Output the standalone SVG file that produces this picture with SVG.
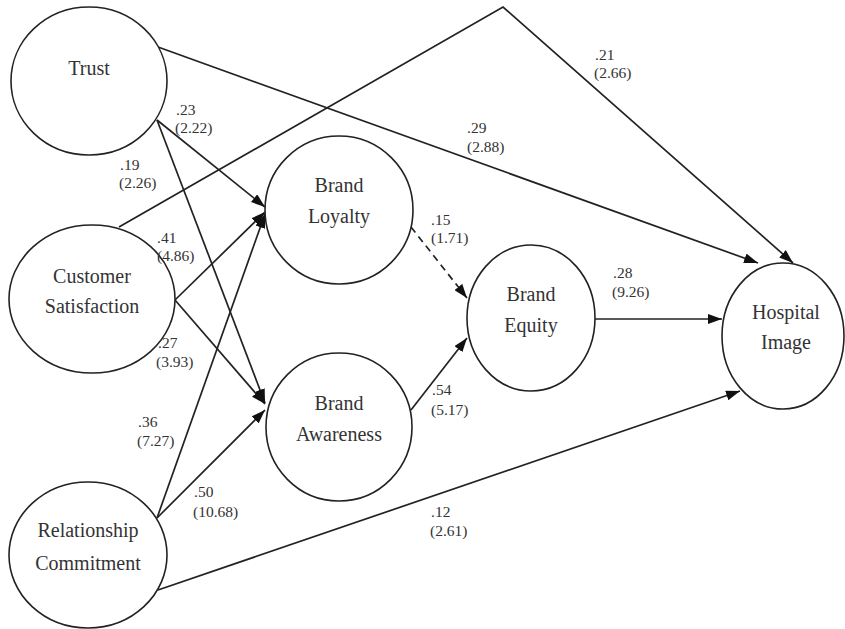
<svg xmlns="http://www.w3.org/2000/svg" width="845" height="629" viewBox="0 0 845 629">
<style>
.node ellipse{fill:#fff;stroke:#222;stroke-width:1.6}
.node text{font-family:"Liberation Serif","Times New Roman",serif;font-size:20px;fill:#333;text-anchor:middle}
.edges path{fill:none;stroke:#222;stroke-width:1.7}
.edges .dash{stroke-dasharray:7 5}
.lbl text{font-family:"Liberation Serif","Times New Roman",serif;font-size:15.5px;fill:#333}
</style>
<defs>
<marker id="arr" viewBox="0 0 14 10" markerWidth="14" markerHeight="10" refX="14" refY="5" orient="auto" markerUnits="userSpaceOnUse">
<path d="M0,0 L14,5 L0,10 z" fill="#111" stroke="none"/>
</marker>
</defs>
<rect width="845" height="629" fill="#fff"/>
<g class="edges">
<path d="M157,120 L265,207" marker-end="url(#arr)"/>
<path d="M157,120 L265,403" marker-end="url(#arr)"/>
<path d="M175,300 L265,212" marker-end="url(#arr)"/>
<path d="M175,300 L265,404" marker-end="url(#arr)"/>
<path d="M157,518 L265,214" marker-end="url(#arr)"/>
<path d="M157,518 L265,410" marker-end="url(#arr)"/>
<path d="M119,227 L503,7 L793,263" marker-end="url(#arr)"/>
<path d="M158,47 L758,263" marker-end="url(#arr)"/>
<path d="M158,590 L740,391" marker-end="url(#arr)"/>
<path class="dash" d="M411,227 L467,298" marker-end="url(#arr)"/>
<path d="M411,410 L467,338" marker-end="url(#arr)"/>
<path d="M595,319 L722,319" marker-end="url(#arr)"/>
</g>
<g id="trust" class="node"><ellipse cx="89" cy="81" rx="78" ry="74"/><text x="89" y="75">Trust</text></g>
<g id="customer-satisfaction" class="node"><ellipse cx="92" cy="299" rx="83" ry="74"/><text x="92" y="283">Customer</text><text x="92" y="313">Satisfaction</text></g>
<g id="relationship-commitment" class="node"><ellipse cx="88" cy="555" rx="79" ry="73"/><text x="88" y="537">Relationship</text><text x="88" y="570">Commitment</text></g>
<g id="brand-loyalty" class="node"><ellipse cx="339" cy="210" rx="74" ry="74"/><text x="339" y="192">Brand</text><text x="339" y="223">Loyalty</text></g>
<g id="brand-awareness" class="node"><ellipse cx="339" cy="427" rx="73" ry="74"/><text x="339" y="410">Brand</text><text x="339" y="441">Awareness</text></g>
<g id="brand-equity" class="node"><ellipse cx="531" cy="318" rx="64" ry="73"/><text x="531" y="301">Brand</text><text x="531" y="332">Equity</text></g>
<g id="hospital-image" class="node"><ellipse cx="783" cy="336" rx="61" ry="73"/><text x="786" y="319">Hospital</text><text x="786" y="349">Image</text></g>
<g class="lbl">
<text x="176" y="115">.23</text><text x="175" y="133">(2.22)</text>
<text x="120" y="170">.19</text><text x="119" y="188">(2.26)</text>
<text x="157" y="243">.41</text><text x="157" y="261">(4.86)</text>
<text x="158" y="348">.27</text><text x="156" y="367">(3.93)</text>
<text x="138" y="427">.36</text><text x="137" y="446">(7.27)</text>
<text x="194" y="497">.50</text><text x="193" y="517">(10.68)</text>
<text x="431" y="225">.15</text><text x="431" y="243">(1.71)</text>
<text x="432" y="395">.54</text><text x="431" y="415">(5.17)</text>
<text x="595" y="60">.21</text><text x="594" y="78">(2.66)</text>
<text x="467" y="133">.29</text><text x="467" y="152">(2.88)</text>
<text x="613" y="278">.28</text><text x="612" y="297">(9.26)</text>
<text x="431" y="517">.12</text><text x="430" y="536">(2.61)</text>
</g>
</svg>
